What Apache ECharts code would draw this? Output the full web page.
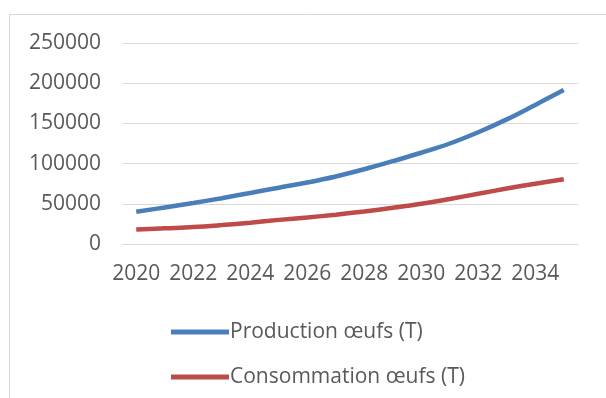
<!DOCTYPE html>
<html><head><meta charset="utf-8">
<script src="https://cdn.jsdelivr.net/npm/echarts@6/dist/echarts.min.js"></script>
<style>html,body{margin:0;padding:0;background:#fff}#c{width:606px;height:398px}</style>
</head><body><div id="c"></div>
<script>
const years = ['2020','2021','2022','2023','2024','2025','2026','2027','2028','2029','2030','2031','2032','2033','2034','2035'];
const production = [40000,45500,51000,57000,63500,70000,76500,84000,93000,103000,113500,125000,139000,155000,173000,191500];
const consommation = [18000,19500,21000,23500,26500,30000,33000,36500,40500,45000,50000,56000,62500,69000,75000,80500];
const seriesNames = ['Production œufs (T)','Consommation œufs (T)'];
const yTicks = {min:0, max:250000, interval:50000};

const chart = echarts.init(document.getElementById('c'), null, {renderer:'canvas'});
const font = '"Open Sans", "Liberation Sans", sans-serif';
chart.setOption({
  animation:false,
  backgroundColor:'#fff',
  graphic:[{type:'rect', shape:{x:9.5,y:14.5,width:640,height:420}, style:{fill:'none', stroke:'#d9d9d9', lineWidth:1}}],
  grid:{left:122, right:28, top:43, bottom:154, containLabel:false},
  legend:{orient:'vertical', left:166, top:315, itemWidth:58, itemHeight:5, itemGap:21, icon:'rect',
    textStyle:{fontFamily:font, fontSize:21, color:'#595959', padding:[0,0,0,-4], lineHeight:24},
    data:seriesNames},
  xAxis:{type:'category', data:years, boundaryGap:true,
    axisLine:{lineStyle:{color:'#d9d9d9', width:1}}, axisTick:{show:false},
    axisLabel:{interval:1, fontFamily:font, fontSize:21, color:'#595959', margin:20},
    splitLine:{show:false}},
  yAxis:{type:'value', min:yTicks.min, max:yTicks.max, interval:yTicks.interval,
    axisLine:{show:false}, axisTick:{show:false},
    axisLabel:{fontFamily:font, fontSize:21, color:'#595959', margin:21, formatter:v=>String(v)},
    splitLine:{lineStyle:{color:'#d9d9d9', width:1}}},
  series:[
    {name:seriesNames[0], type:'line', data:production, smooth:0.4, showSymbol:false, symbol:'none',
      lineStyle:{color:'#4a7ebb', width:4.5}, itemStyle:{color:'#4a7ebb'}},
    {name:seriesNames[1], type:'line', data:consommation, smooth:0.4, showSymbol:false, symbol:'none',
      lineStyle:{color:'#be4b48', width:4.5}, itemStyle:{color:'#be4b48'}}
  ]
});
</script></body></html>
